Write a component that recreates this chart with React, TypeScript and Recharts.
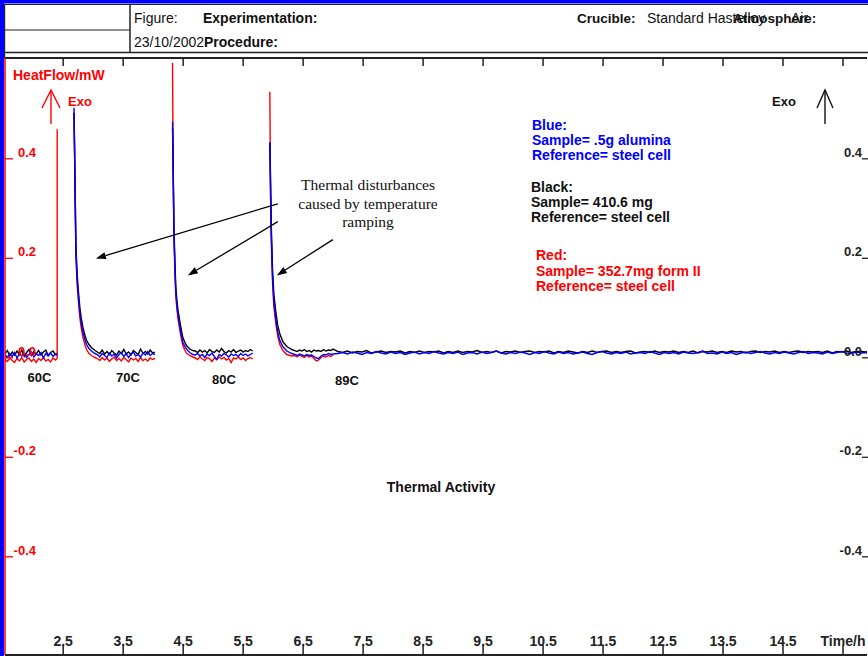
import React from "react";
import { LineChart, Line, XAxis, YAxis, ReferenceLine } from "recharts";

// time in hours, heat flow in mW
const seg1Time = [1.53, 1.57, 1.61, 1.65, 1.69, 1.73, 1.77, 1.81, 1.85, 1.89, 1.93, 1.97, 2.01, 2.05, 2.09, 2.13, 2.17, 2.21, 2.25, 2.29, 2.33, 2.37, 2.4];
const seg1Blue = [0.004, -0.002, 0.006, 0.0, 0.008, -0.003, 0.005, 0.001, 0.007, -0.002, 0.004, 0.009, -0.001, 0.005, 0.002, 0.008, -0.003, 0.006, 0.001, 0.007, 0.0, 0.005, 0.002];
const seg1Black = [0.006, 0.012, 0.001, 0.009, 0.003, 0.011, 0.004, 0.013, 0.0, 0.008, 0.014, 0.002, 0.01, 0.005, 0.012, 0.003, 0.009, 0.013, 0.002, 0.008, 0.011, 0.004, 0.006];
const seg1Red = [-0.006, -0.01, -0.003, -0.008, -0.012, -0.004, -0.009, -0.002, -0.011, -0.006, -0.003, -0.01, -0.005, -0.012, -0.004, -0.008, -0.002, -0.009, -0.006, -0.011, -0.003, -0.007, -0.004];
const redMarkTime = 2.4;
const redMarkValue = 0.457;

const seg2Time = [2.68, 2.69, 2.7, 2.712, 2.72, 2.733, 2.745, 2.76, 2.778, 2.8, 2.83, 2.862, 2.89, 2.93, 2.97, 3.03, 3.07, 3.11, 3.15, 3.19, 3.23, 3.27, 3.31, 3.35, 3.39, 3.43, 3.47, 3.51, 3.55, 3.59, 3.63, 3.67, 3.71, 3.75, 3.79, 3.83, 3.87, 3.91, 3.95, 3.99, 4.03];
const seg2Blue = [0.5, 0.415, 0.32, 0.215, 0.19, 0.154, 0.135, 0.112, 0.088, 0.068, 0.048, 0.034, 0.024, 0.016, 0.011, 0.006, 0.004, -0.001, 0.006, 0.002, -0.002, 0.007, 0.001, 0.005, -0.003, 0.004, 0.008, 0.0, 0.006, -0.002, 0.005, 0.009, 0.001, 0.004, -0.001, 0.007, 0.003, 0.01, 0.002, 0.006, 0.004];
const seg2Black = [0.49, 0.42, 0.33, 0.225, 0.2, 0.165, 0.145, 0.122, 0.098, 0.078, 0.058, 0.043, 0.032, 0.024, 0.018, 0.012, 0.009, 0.006, 0.013, 0.005, 0.01, 0.004, 0.012, 0.007, 0.003, 0.011, 0.006, 0.014, 0.005, 0.009, 0.003, 0.012, 0.008, 0.004, 0.015, 0.006, 0.01, 0.005, 0.013, 0.007, 0.009];
const seg2Red = [0.49, 0.4, 0.3, 0.205, 0.18, 0.145, 0.125, 0.102, 0.078, 0.058, 0.038, 0.024, 0.014, 0.006, 0.002, -0.002, -0.004, -0.008, -0.002, -0.007, -0.003, -0.01, -0.005, -0.001, -0.008, -0.004, -0.009, -0.002, -0.006, -0.011, -0.003, -0.007, -0.004, -0.01, -0.002, -0.008, -0.005, -0.009, -0.003, -0.006, -0.004];

const seg3Time = [4.323, 4.333, 4.345, 4.362, 4.378, 4.395, 4.412, 4.445, 4.47, 4.495, 4.53, 4.562, 4.61, 4.662, 4.7, 4.74, 4.78, 4.82, 4.86, 4.9, 4.94, 4.98, 5.02, 5.06, 5.1, 5.14, 5.18, 5.22, 5.26, 5.3, 5.34, 5.38, 5.42, 5.46, 5.5, 5.54, 5.58, 5.62, 5.66];
const seg3Blue = [0.472, 0.38, 0.26, 0.18, 0.128, 0.104, 0.085, 0.06, 0.043, 0.028, 0.02, 0.014, 0.008, 0.004, 0.003, 0.006, 0.001, 0.004, -0.002, 0.005, 0.002, 0.007, 0.0, -0.006, 0.004, 0.001, 0.006, 0.003, -0.001, 0.005, 0.002, 0.004, 0.0, 0.006, 0.002, 0.005, 0.001, 0.004, 0.007];
const seg3Black = [0.46, 0.39, 0.27, 0.19, 0.138, 0.114, 0.095, 0.07, 0.053, 0.038, 0.028, 0.021, 0.015, 0.012, 0.011, 0.008, 0.013, 0.009, 0.012, 0.007, 0.014, 0.01, 0.008, 0.013, 0.009, 0.016, 0.01, 0.007, 0.012, 0.009, 0.014, 0.008, 0.011, 0.013, 0.009, 0.012, 0.01, 0.014, 0.011];
const seg3Red = [0.59, 0.37, 0.25, 0.17, 0.12, 0.096, 0.078, 0.052, 0.036, 0.022, 0.012, 0.006, 0.002, -0.001, -0.003, -0.006, -0.001, -0.005, -0.008, -0.002, -0.004, -0.01, -0.003, -0.006, -0.001, -0.005, -0.002, -0.007, -0.004, -0.012, -0.003, -0.005, -0.001, -0.006, -0.003, -0.008, -0.004, -0.002, -0.005];

const seg4Time = [5.945, 5.957, 5.97, 5.99, 6.012, 6.045, 6.078, 6.112, 6.162, 6.228, 6.312, 6.36, 6.4, 6.44, 6.48, 6.52, 6.56, 6.6, 6.64, 6.68, 6.72, 6.76, 6.8, 6.84, 6.88, 6.92, 6.96, 7.0];
const seg4Blue = [0.43, 0.33, 0.24, 0.16, 0.11, 0.075, 0.048, 0.032, 0.02, 0.011, 0.006, 0.004, 0.002, 0.005, 0.003, 0.001, 0.004, 0.002, 0.003, 0.0, -0.003, -0.004, 0.001, 0.004, 0.003, 0.006, 0.004, 0.005];
const seg4Black = [0.43, 0.35, 0.26, 0.175, 0.125, 0.09, 0.062, 0.045, 0.03, 0.02, 0.014, 0.012, 0.01, 0.013, 0.011, 0.014, 0.01, 0.012, 0.009, 0.013, 0.011, 0.012, 0.01, 0.014, 0.011, 0.013, 0.012, 0.015];
const seg4Red = [0.532, 0.32, 0.23, 0.15, 0.1, 0.066, 0.04, 0.024, 0.012, 0.004, 0.001, 0.002, -0.001, 0.003, 0.0, -0.002, 0.002, -0.001, 0.001, -0.004, -0.009, -0.007, -0.002, 0.001, -0.001, 0.002, 0.0, 0.003];

const tailTime = [
  7.08, 7.16, 7.24, 7.32, 7.4, 7.48, 7.56, 7.64, 7.72, 7.8, 7.88, 7.96, 8.04, 8.12, 8.2, 8.28, 8.36, 8.44, 8.52, 8.6,
  8.68, 8.76, 8.84, 8.92, 9.0, 9.08, 9.16, 9.24, 9.32, 9.4, 9.48, 9.56, 9.64, 9.72, 9.8, 9.88, 9.96, 10.04, 10.12, 10.2,
  10.28, 10.36, 10.44, 10.52, 10.6, 10.68, 10.76, 10.84, 10.92, 11.0, 11.08, 11.16, 11.24, 11.32, 11.4, 11.48, 11.56, 11.64, 11.72, 11.8,
  11.88, 11.96, 12.04, 12.12, 12.2, 12.28, 12.36, 12.44, 12.52, 12.6, 12.68, 12.76, 12.84, 12.92, 13.0, 13.08, 13.16, 13.24, 13.32, 13.4,
  13.48, 13.56, 13.64, 13.72, 13.8, 13.88, 13.96, 14.04, 14.12, 14.2, 14.28, 14.36, 14.44, 14.52, 14.6, 14.68, 14.76, 14.84, 14.92, 15.0,
  15.08, 15.16, 15.24, 15.32, 15.4, 15.48, 15.56, 15.64, 15.72, 15.8, 15.88, 15.92,
];
const tailBlue = [
  0.006, 0.008, 0.005, 0.009, 0.007, 0.004, 0.008, 0.006, 0.01, 0.007,
  0.005, 0.009, 0.006, 0.008, 0.004, 0.007, 0.009, 0.005, 0.008, 0.006,
  0.01, 0.007, 0.005, 0.008, 0.006, 0.009, 0.004, 0.007, 0.008, 0.005,
  0.009, 0.006, 0.008, 0.011, 0.007, 0.005, 0.008, 0.006, 0.009, 0.007,
  0.004, 0.008, 0.006, 0.01, 0.007, 0.005, 0.009, 0.006, 0.008, 0.005,
  0.007, 0.009, 0.006, 0.004, 0.008, 0.01, 0.007, 0.005, 0.008, 0.006,
  0.009, 0.005, 0.007, 0.008, 0.006, 0.01, 0.007, 0.004, 0.008, 0.006,
  0.008, 0.005, 0.009, 0.007, 0.006, 0.008, 0.011, 0.006, 0.007, 0.005,
  0.009, 0.006, 0.008, 0.004, 0.007, 0.009, 0.006, 0.008, 0.01, 0.007,
  0.005, 0.008, 0.006, 0.009, 0.007, 0.005, 0.008, 0.01, 0.006, 0.008,
  0.007, 0.005, 0.009, 0.006, 0.008, 0.01, 0.007, 0.006, 0.009, 0.007,
  0.008, 0.006,
];
const tailBlack = [
  0.01, 0.008, 0.011, 0.007, 0.01, 0.009, 0.012, 0.007, 0.009, 0.011,
  0.008, 0.01, 0.009, 0.011, 0.007, 0.01, 0.008, 0.011, 0.008, 0.01,
  0.009, 0.011, 0.007, 0.01, 0.008, 0.011, 0.008, 0.01, 0.009, 0.012,
  0.008, 0.01, 0.008, 0.011, 0.007, 0.01, 0.009, 0.011, 0.008, 0.01,
  0.011, 0.008, 0.01, 0.009, 0.011, 0.007, 0.01, 0.008, 0.011, 0.009,
  0.007, 0.01, 0.008, 0.011, 0.008, 0.01, 0.011, 0.008, 0.01, 0.008,
  0.01, 0.011, 0.007, 0.009, 0.01, 0.008, 0.011, 0.008, 0.01, 0.009,
  0.011, 0.008, 0.01, 0.008, 0.011, 0.007, 0.01, 0.009, 0.011, 0.008,
  0.01, 0.008, 0.011, 0.009, 0.01, 0.007, 0.01, 0.011, 0.008, 0.01,
  0.009, 0.011, 0.008, 0.01, 0.008, 0.01, 0.011, 0.008, 0.01, 0.009,
  0.01, 0.008, 0.011, 0.007, 0.01, 0.009, 0.011, 0.008, 0.01, 0.01,
  0.009, 0.01,
];

const xTicks = [2.5, 3.5, 4.5, 5.5, 6.5, 7.5, 8.5, 9.5, 10.5, 11.5, 12.5, 13.5, 14.5, 15.5];
const yTicks = [-0.4, -0.2, 0, 0.2, 0.4];

// arrows: from text to peaks, in (time, mW)
const arrows = [
  { from: { x: 6.078, y: 0.307 }, to: { x: 3.045, y: 0.197 } },
  { from: { x: 6.078, y: 0.271 }, to: { x: 4.578, y: 0.163 } },
  { from: { x: 6.995, y: 0.235 }, to: { x: 6.062, y: 0.163 } },
];

type Row = { t: number; blue: number | null; black: number | null; red: number | null };

const rows: Row[] = [];
const pushSeg = (time: number[], blue: number[], black: number[], red: number[] | null) => {
  time.forEach((t, i) => rows.push({ t, blue: blue[i], black: black[i], red: red ? red[i] : null }));
};
const gap = (t: number) => rows.push({ t, blue: null, black: null, red: null });

pushSeg(seg1Time, seg1Blue, seg1Black, seg1Red);
rows.push({ t: redMarkTime, blue: null, black: null, red: redMarkValue });
gap(redMarkTime);
pushSeg(seg2Time, seg2Blue, seg2Black, seg2Red);
gap(4.03);
pushSeg(seg3Time, seg3Blue, seg3Black, seg3Red);
gap(5.66);
pushSeg(seg4Time, seg4Blue, seg4Black, seg4Red);
pushSeg(tailTime, tailBlue, tailBlack, null);

const FONT = "'Liberation Sans', Arial, Helvetica, sans-serif";
const SERIF = "'Liberation Serif', 'Times New Roman', serif";
const AXIS = "#222";
const X_DOMAIN: [number, number] = [1.53, 15.9];
const Y_DOMAIN: [number, number] = [-0.6, 0.6];

const BottomTick = (props: any) => {
  const { x, y, payload } = props;
  const label = payload.value === 15.5 ? "Time/h" : String(payload.value);
  return (
    <g>
      <line x1={x} x2={x} y1={y + 1} y2={y - 10} stroke={AXIS} strokeWidth={1.5} />
      <text x={x} y={y - 9} textAnchor="middle" fontSize={14} fontWeight="bold" fill={AXIS} fontFamily={FONT}>
        {label}
      </text>
    </g>
  );
};

const TopTick = (props: any) => {
  const { x, y } = props;
  return <line x1={x} x2={x} y1={y} y2={y + 8} stroke={AXIS} strokeWidth={1.5} />;
};

const LeftTick = (props: any) => {
  const { x, y, payload } = props;
  return (
    <g>
      <line x1={x} x2={x + 8} y1={y + 1.3} y2={y + 1.3} stroke="#ff0000" strokeWidth={1.3} />
      <text x={x + 31} y={y - 1} textAnchor="end" fontSize={13} fontWeight="bold" fill="#ff0000" fontFamily={FONT}>
        {Number(payload.value).toFixed(1)}
      </text>
    </g>
  );
};

const RightTick = (props: any) => {
  const { x, y, payload } = props;
  return (
    <g>
      <line x1={x - 5} x2={x + 1} y1={y + 1.3} y2={y + 1.3} stroke={AXIS} strokeWidth={1.3} />
      <text x={x - 5} y={y - 1} textAnchor="end" fontSize={13} fontWeight="bold" fill={AXIS} fontFamily={FONT}>
        {Number(payload.value).toFixed(1)}
      </text>
    </g>
  );
};

const ArrowShape = (props: any) => {
  const { x1, y1, x2, y2 } = props;
  const ang = Math.atan2(y2 - y1, x2 - x1);
  const len = 10;
  const w = 3.5;
  const bx = x2 - len * Math.cos(ang);
  const by = y2 - len * Math.sin(ang);
  const pts = `${x2},${y2} ${bx + w * Math.sin(ang)},${by - w * Math.cos(ang)} ${bx - w * Math.sin(ang)},${by + w * Math.cos(ang)}`;
  return (
    <g>
      <line x1={x1} y1={y1} x2={bx} y2={by} stroke="#000" strokeWidth={1.3} />
      <polygon points={pts} fill="#000" />
    </g>
  );
};

const bold = { fontFamily: FONT, fontWeight: "bold" as const, fontSize: 13 };

const App: React.FC = () => {
  return (
    <div style={{ position: "relative", width: 868, height: 656 }}>
      <style>{"body{margin:0}"}</style>
      <LineChart width={868} height={656} data={rows} margin={{ top: 57, right: 0, bottom: 0, left: 4 }}>
        <XAxis
          xAxisId="b"
          dataKey="t"
          type="number"
          domain={X_DOMAIN}
          ticks={xTicks}
          interval={0}
          allowDataOverflow
          height={1}
          tickSize={0}
          tickMargin={0}
          tickLine={false}
          axisLine={{ stroke: AXIS, strokeWidth: 2 }}
          tick={<BottomTick />}
        />
        <XAxis
          xAxisId="t"
          orientation="top"
          dataKey="t"
          type="number"
          domain={X_DOMAIN}
          ticks={xTicks}
          interval={0}
          allowDataOverflow
          height={1}
          tickSize={0}
          tickMargin={0}
          tickLine={false}
          axisLine={{ stroke: AXIS, strokeWidth: 2 }}
          tick={<TopTick />}
        />
        <YAxis
          yAxisId="left"
          type="number"
          domain={Y_DOMAIN}
          ticks={yTicks}
          interval={0}
          allowDataOverflow
          width={1}
          tickSize={0}
          tickMargin={0}
          tickLine={false}
          axisLine={{ stroke: "#ff0000", strokeWidth: 1.5 }}
          tick={<LeftTick />}
        />
        <YAxis
          yAxisId="right"
          orientation="right"
          type="number"
          domain={Y_DOMAIN}
          ticks={yTicks}
          interval={0}
          allowDataOverflow
          width={1}
          tickSize={0}
          tickMargin={0}
          tickLine={false}
          axisLine={false}
          tick={<RightTick />}
        />
        <Line xAxisId="b" yAxisId="left" dataKey="red" stroke="#ff0000" strokeWidth={1.4} dot={false} isAnimationActive={false} />
        <Line xAxisId="b" yAxisId="left" dataKey="black" stroke="#000000" strokeWidth={1.4} dot={false} isAnimationActive={false} />
        <Line xAxisId="b" yAxisId="left" dataKey="blue" stroke="#0000ff" strokeWidth={1.4} dot={false} isAnimationActive={false} />
        {arrows.map((a, i) => (
          <ReferenceLine key={i} xAxisId="b" yAxisId="left" segment={[a.from, a.to]} shape={ArrowShape} />
        ))}
      </LineChart>

      <svg width={868} height={656} style={{ position: "absolute", left: 0, top: 0, pointerEvents: "none" }}>
        {/* frame and header */}
        <rect x={0} y={0} width={868} height={3.5} fill="#0000ff" />
        <rect x={0} y={0} width={4} height={656} fill="#0000ff" />
        <line x1={4} x2={868} y1={4.5} y2={4.5} stroke={AXIS} strokeWidth={1.2} />
        <line x1={4.6} x2={4.6} y1={4} y2={58} stroke={AXIS} strokeWidth={1.2} />
        <line x1={130} x2={130} y1={4} y2={52.5} stroke={AXIS} strokeWidth={1.5} />
        <line x1={4} x2={130} y1={30} y2={30} stroke={AXIS} strokeWidth={1.2} />
        <line x1={4} x2={868} y1={52.5} y2={52.5} stroke={AXIS} strokeWidth={1.5} />
        <g fontFamily={FONT} fontSize={14} fill="#111">
          <text x={134} y={23}>Figure:</text>
          <text x={203} y={23} fontWeight="bold">Experimentation:</text>
          <text x={134} y={47}>23/10/2002</text>
          <text x={204} y={47} fontWeight="bold">Procedure:</text>
          <text x={577} y={23} fontWeight="bold" fontSize={13.5}>Crucible:</text>
          <text x={647} y={23}>Standard Hastelloy</text>
          <text x={733} y={23} fontWeight="bold" fontSize={13.5}>Atmosphere:</text>
          <text x={791} y={23}>Air</text>
        </g>

        {/* axis titles */}
        <text x={13} y={80} {...bold} fontSize={14} fill="#ff0000">HeatFlow/mW</text>
        <text x={68} y={106} {...bold} fill="#ff0000">Exo</text>
        <g stroke="#ff0000" strokeWidth={1.4} fill="none">
          <line x1={51} x2={51} y1={90} y2={124} />
          <polyline points="42,108 51,90 60,108" />
        </g>
        <text x={772} y={106} {...bold} fill="#111">Exo</text>
        <g stroke="#111" strokeWidth={1.4} fill="none">
          <line x1={825} x2={825} y1={90} y2={124} />
          <polyline points="817,108 825,90 833,108" />
        </g>

        {/* temperature steps */}
        <g {...bold} fill="#111" textAnchor="middle">
          <text x={39.5} y={382}>60C</text>
          <text x={128} y={382}>70C</text>
          <text x={224} y={384}>80C</text>
          <text x={347} y={385}>89C</text>
          <text x={441} y={492} fontSize={14}>Thermal Activity</text>
        </g>

        {/* annotation */}
        <g fontFamily={SERIF} fontSize={15.5} fill="#111" textAnchor="middle">
          <text x={368} y={190}>Thermal disturbances</text>
          <text x={368} y={208.5}>caused by temperature</text>
          <text x={368} y={227}>ramping</text>
        </g>

        {/* sample legend */}
        <g {...bold} fontSize={14} fill="#0000ff">
          <text x={532} y={130}>Blue:</text>
          <text x={532} y={145}>Sample= .5g alumina</text>
          <text x={532} y={160}>Reference= steel cell</text>
        </g>
        <g {...bold} fontSize={14} fill="#111">
          <text x={531} y={192}>Black:</text>
          <text x={531} y={207}>Sample= 410.6 mg</text>
          <text x={531} y={222}>Reference= steel cell</text>
        </g>
        <g {...bold} fontSize={14} fill="#ff0000">
          <text x={536} y={260}>Red:</text>
          <text x={536} y={276}>Sample= 352.7mg  form II</text>
          <text x={536} y={291}>Reference= steel cell</text>
        </g>
      </svg>
    </div>
  );
};

export default App;
